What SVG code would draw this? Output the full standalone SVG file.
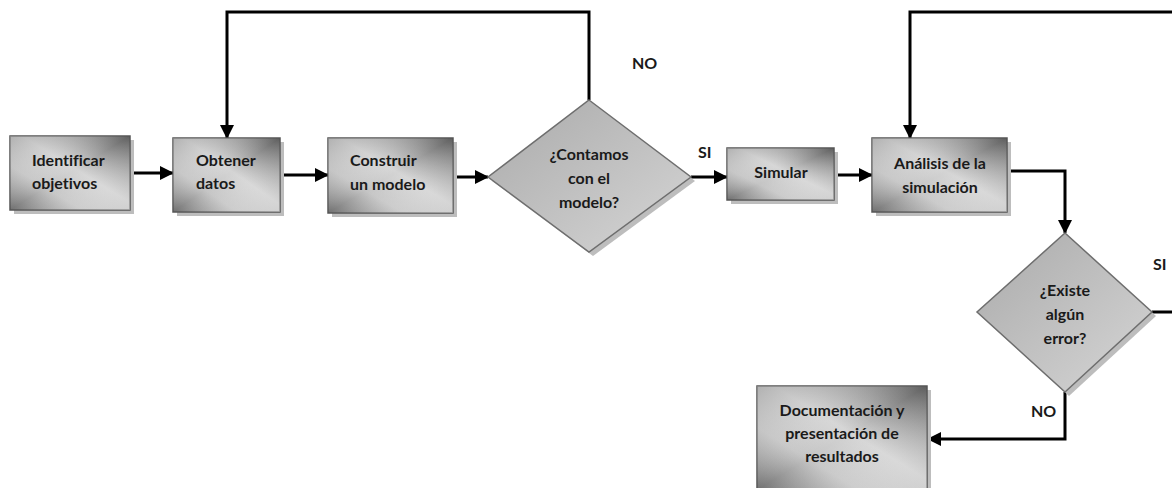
<svg xmlns="http://www.w3.org/2000/svg" width="1172" height="488" viewBox="0 0 1172 488">
<defs>
<linearGradient id="boxg" x1="1" y1="0" x2="0" y2="1">
<stop offset="0" stop-color="#5e5e5e"/>
<stop offset="0.45" stop-color="#d4d4d4"/>
<stop offset="0.7" stop-color="#c4c4c4"/>
<stop offset="1" stop-color="#707070"/>
</linearGradient>
<linearGradient id="boxg2" x1="0" y1="0" x2="1" y2="1">
<stop offset="0" stop-color="#9a9a9a" stop-opacity="0.6"/>
<stop offset="0.5" stop-color="#ffffff" stop-opacity="0"/>
<stop offset="1" stop-color="#d0d0d0" stop-opacity="0.5"/>
</linearGradient>
<linearGradient id="diag" x1="0" y1="0" x2="1" y2="1">
<stop offset="0" stop-color="#aaaaaa"/>
<stop offset="1" stop-color="#d6d6d6"/>
</linearGradient>
<marker id="arr" markerWidth="14" markerHeight="14" viewBox="0 0 14 14" refX="13" refY="7" orient="auto" markerUnits="userSpaceOnUse">
<path d="M0,0 L14,7 L0,14 Z" fill="#000"/>
</marker>
</defs>
<style>
.box{fill:url(#boxg);stroke:#555;stroke-width:1.5}
.ov{fill:url(#boxg2);stroke:none}
.sh{fill:#bdbdbd}
.dia{fill:url(#diag);stroke:#6e6e6e;stroke-width:1.5}
.t{font-family:Lato,"Liberation Sans",sans-serif;font-weight:bold;font-size:16px;fill:#1a1a1a;font-variant-ligatures:none}
.c{text-anchor:middle}
.ln{fill:none;stroke:#000;stroke-width:3}
.a{marker-end:url(#arr)}
</style>
<rect width="1172" height="488" fill="#fff"/>
<g id="connectors">
<path class="ln a" d="M130,173 H173"/>
<path class="ln a" d="M280,175 H328"/>
<path class="ln a" d="M453,177 H488"/>
<path class="ln a" d="M691,177 H727"/>
<path class="ln a" d="M834,175 H872"/>
<path class="ln a" d="M1007,171 H1065 V233"/>
<path class="ln a" d="M589,100 V12 H227 V138"/>
<path class="ln a" d="M1152,312 H1180 V12 H910 V138"/>
<path class="ln a" d="M1065,392 V439 H928"/>
</g>
<g id="identificar">
<rect class="sh" x="14" y="140" width="120" height="74"/>
<rect class="box" x="10" y="136" width="120" height="74"/>
<rect class="ov" x="10" y="136" width="120" height="74"/>
<text class="t" x="32" y="166">Identificar</text>
<text class="t" x="32" y="189">objetivos</text>
</g>
<g id="obtener">
<rect class="sh" x="177" y="142" width="107" height="74"/>
<rect class="box" x="173" y="138" width="107" height="74"/>
<rect class="ov" x="173" y="138" width="107" height="74"/>
<text class="t" x="196" y="166">Obtener</text>
<text class="t" x="196" y="189">datos</text>
</g>
<g id="construir">
<rect class="sh" x="332" y="142" width="125" height="75"/>
<rect class="box" x="328" y="138" width="125" height="75"/>
<rect class="ov" x="328" y="138" width="125" height="75"/>
<text class="t" x="350" y="166">Construir</text>
<text class="t" x="350" y="190">un modelo</text>
</g>
<g id="contamos">
<polygon class="sh" points="593,104 695,181 593,256 492,181"/>
<polygon class="dia" points="589,100 691,177 589,252 488,177"/>
<text class="t c" x="589" y="160">¿Contamos</text>
<text class="t c" x="589" y="184">con el</text>
<text class="t c" x="589" y="208">modelo?</text>
</g>
<g id="simular">
<rect class="sh" x="731" y="152" width="107" height="52"/>
<rect class="box" x="727" y="148" width="107" height="52"/>
<rect class="ov" x="727" y="148" width="107" height="52"/>
<text class="t c" x="781" y="178">Simular</text>
</g>
<g id="analisis">
<rect class="sh" x="876" y="142" width="135" height="74"/>
<rect class="box" x="872" y="138" width="135" height="74"/>
<rect class="ov" x="872" y="138" width="135" height="74"/>
<text class="t c" x="940" y="169">Análisis de la</text>
<text class="t c" x="940" y="193">simulación</text>
</g>
<g id="existe">
<polygon class="sh" points="1069,237 1156,316 1069,396 981,316"/>
<polygon class="dia" points="1065,233 1152,312 1065,392 977,312"/>
<text class="t c" x="1065" y="296">¿Existe</text>
<text class="t c" x="1065" y="320">algún</text>
<text class="t c" x="1065" y="344">error?</text>
</g>
<g id="documentacion">
<rect class="sh" x="761" y="390" width="170" height="104"/>
<rect class="box" x="757" y="386" width="170" height="104"/>
<rect class="ov" x="757" y="386" width="170" height="104"/>
<text class="t c" x="842" y="416">Documentación y</text>
<text class="t c" x="842" y="439">presentación de</text>
<text class="t c" x="842" y="462">resultados</text>
</g>
<g id="labels">
<text class="t" x="632" y="69">NO</text>
<text class="t" x="698" y="158">SI</text>
<text class="t" x="1153" y="270">SI</text>
<text class="t" x="1031" y="417">NO</text>
</g>
</svg>
